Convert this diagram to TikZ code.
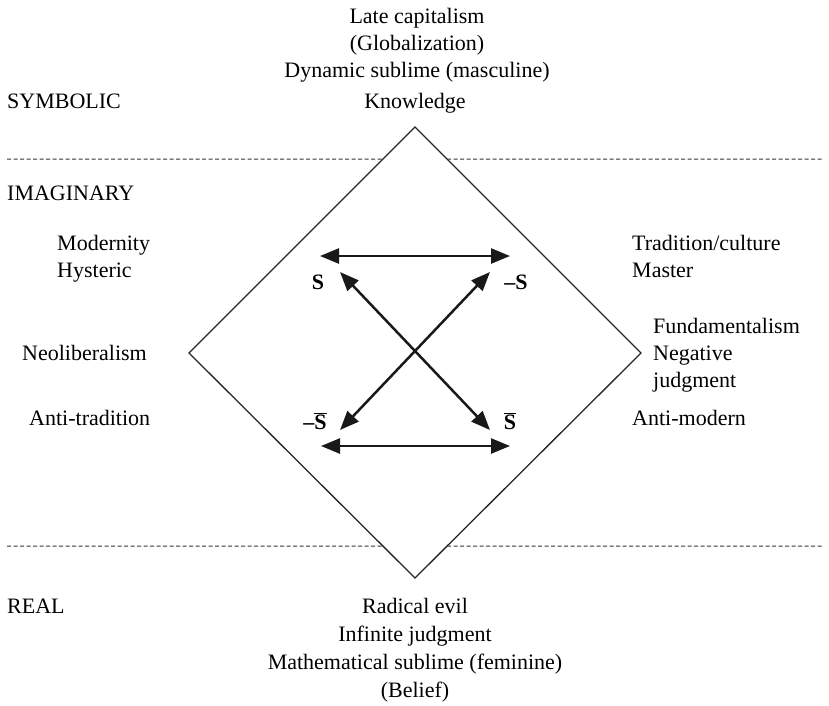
\documentclass[tikz,border=0pt]{standalone}
\usepackage{fontspec}
\setmainfont{Liberation Serif}
\usetikzlibrary{arrows.meta,calc}

\begin{document}
\begin{tikzpicture}[x=1pt,y=-1pt,
  lbl/.style={inner sep=0pt,anchor=base west,font=\fontsize{22}{28}\selectfont},
  ctr/.style={inner sep=0pt,anchor=base,font=\fontsize{22}{28}\selectfont},
  sym/.style={inner sep=0pt,anchor=base,font=\fontsize{22}{28}\selectfont\bfseries},
  frame/.style={draw=black!85,line width=1.3pt,line join=miter},
  divider/.style={draw=black!80,line width=1pt,dash pattern=on 4pt off 2.5pt},
  link/.style={draw=black!90,line width=2.5pt,
    {Triangle[length=19pt,width=15pt]}-{Triangle[length=19pt,width=15pt]}}
]
\useasboundingbox (0,0) rectangle (829,705);

% diamond corners
\coordinate (dtop) at (415,127);
\coordinate (dleft) at (189,353);
\coordinate (dright) at (641,353);
\coordinate (dbot) at (415,578);
\draw[frame] (dtop) -- (dright) -- (dbot) -- (dleft) -- cycle;

% layer dividers, stopping at the diamond
\coordinate (upL) at (7,159);
\coordinate (upR) at (823,159);
\coordinate (loL) at (7,546);
\coordinate (loR) at (823,546);
\coordinate (upA) at ($(dtop)!0.1416!(dleft)$);
\coordinate (upB) at ($(dtop)!0.1416!(dright)$);
\coordinate (loA) at ($(dbot)!0.1416!(dleft)$);
\coordinate (loB) at ($(dbot)!0.1416!(dright)$);
\draw[divider] (upL) -- (upA);
\draw[divider] (upB) -- (upR);
\draw[divider] (loL) -- (loA);
\draw[divider] (loB) -- (loR);

% register names
\node[lbl] (symb) at (7,108) {SYMBOLIC};
\node[lbl] (imag) at (7,200) {IMAGINARY};
\node[lbl] (real) at (7,613) {REAL};

% top corner
\node[ctr] (t1) at (417,23) {Late capitalism};
\node[ctr] (t2) at (417,50) {(Globalization)};
\node[ctr] (t3) at (417,77) {Dynamic sublime (masculine)};
\node[ctr] (t4) at (415,108) {Knowledge};

% bottom corner
\node[ctr] (b1) at (415,613) {Radical evil};
\node[ctr] (b2) at (415,641) {Infinite judgment};
\node[ctr] (b3) at (415,669) {Mathematical sublime (feminine)};
\node[ctr] (b4) at (415,697) {(Belief)};

% left side
\node[lbl] (l1) at (57,250) {Modernity};
\node[lbl] (l2) at (57,277) {Hysteric};
\node[lbl] (l3) at (22,360) {Neoliberalism};
\node[lbl] (l4) at (29,425) {Anti-tradition};

% right side
\node[lbl] (r1) at (632,250) {Tradition/culture};
\node[lbl] (r2) at (632,277) {Master};
\node[lbl] (r3) at (653,333) {Fundamentalism};
\node[lbl] (r4) at (653,360) {Negative};
\node[lbl] (r5) at (653,387) {judgment};
\node[lbl] (r6) at (632,425) {Anti-modern};

% square of oppositions
\node[sym] (sA) at (318,289) {S};
\node[sym] (sB) at (516,289) {–S};
\node[sym] (sC) at (315,429) {–$\overline{\mbox{\bfseries S}}$};
\node[sym] (sD) at (510,429) {$\overline{\mbox{\bfseries S}}$};

\coordinate (hA) at (320,256);
\coordinate (hB) at (510,256);
\coordinate (hC) at (321,446);
\coordinate (hD) at (510,446);
\coordinate (dA) at (340,272);
\coordinate (dB) at (490,272);
\coordinate (dC) at (340,430);
\coordinate (dD) at (490,430);

\draw[link] (hA) -- (hB);
\draw[link] (hC) -- (hD);
\draw[link] (dA) -- (dD);
\draw[link] (dC) -- (dB);
\end{tikzpicture}
\end{document}
